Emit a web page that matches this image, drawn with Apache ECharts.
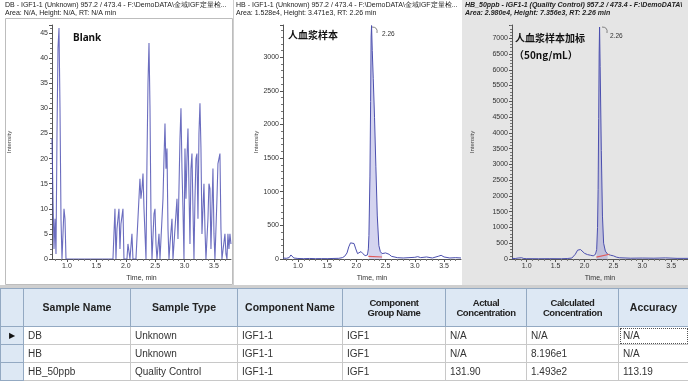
<!DOCTYPE html>
<html><head><meta charset="utf-8">
<script src="https://cdn.jsdelivr.net/npm/echarts@6/dist/echarts.min.js"></script>
<style>
body{margin:0;width:688px;height:383px;overflow:hidden;background:#fff;font-family:"Liberation Sans",Arial,sans-serif;}
#chart{position:absolute;left:0;top:0;width:688px;height:287px;}
#strip{position:absolute;left:0;top:285px;width:688px;height:4px;background:#cfcfcf;}
#tbl{position:absolute;left:0;top:288px;border-collapse:collapse;table-layout:fixed;width:688px;}
#tbl th{background:#dde8f4;border:1px solid #93a9c2;font-size:10.5px;font-weight:bold;color:#222;height:37px;padding:0 1px;line-height:11px;}
#tbl th.two{font-size:9.5px;letter-spacing:-0.4px;line-height:10px;}
#tbl td{border:1px solid #c8c8c8;font-size:10px;color:#333;height:17px;padding:0 0 0 4px;white-space:nowrap;}
#tbl td.rh{background:#dde8f4;border-color:#93a9c2;padding:0;text-align:center;font-size:8px;color:#111;}
#tbl td.focus{outline:1px dotted #555;outline-offset:-2px;}
</style></head>
<body>
<div id="chart"></div>
<div id="strip"></div>
<table id="tbl">
<colgroup><col style="width:23px"><col style="width:107px"><col style="width:107px"><col style="width:105px"><col style="width:103px"><col style="width:81px"><col style="width:92px"><col style="width:70px"></colgroup>
<thead><tr id="hdr"></tr></thead>
<tbody id="body"></tbody>
</table>
<script>
// ---------- data ----------
const tickValues = [1.0, 1.5, 2.0, 2.5, 3.0, 3.5];
const minorTickValues = [0.8,0.9,1.1,1.2,1.3,1.4,1.6,1.7,1.8,1.9,2.1,2.2,2.3,2.4,2.6,2.7,2.8,2.9,3.1,3.2,3.3,3.4,3.6,3.7];

// Panel 1: DB (Blank)
const blankTime = [0.745,0.762,0.779,0.796,0.813,0.830,0.847,0.864,0.881,0.898,0.915,0.932,0.949,0.966,0.983,1.782,1.816,1.833,1.850,1.884,1.901,1.918,1.952,1.969,2.020,2.037,2.071,2.105,2.122,2.173,2.207,2.241,2.258,2.276,2.293,2.310,2.344,2.361,2.378,2.395,2.412,2.429,2.446,2.480,2.497,2.514,2.531,2.565,2.582,2.616,2.633,2.650,2.667,2.684,2.701,2.718,2.735,2.752,2.786,2.803,2.837,2.871,2.888,2.905,2.922,2.939,2.956,2.973,2.990,3.007,3.024,3.041,3.058,3.075,3.092,3.109,3.126,3.143,3.160,3.177,3.194,3.211,3.228,3.245,3.262,3.279,3.296,3.313,3.330,3.347,3.364,3.398,3.415,3.432,3.449,3.466,3.483,3.500,3.517,3.551,3.568,3.585,3.602,3.619,3.636,3.670,3.687,3.704,3.721,3.738,3.755,3.772,3.789];
const blankInt  = [24,12,2,8,1,25,42,46,30,8,0,0,10,8,0,0,10,0,6,10,2,7,10,0,0,3,0,5,0,0,8,16,12,14,17,10,0,20,35,43,30,8,0,9,10,3,0,5,0,0,12,20,27,18,22,6,0,3,8,0,6,12,4,14,24,30,18,10,0,22,12,20,26,14,3,18,21,10,0,12,20,21,8,25,31,22,5,10,15,6,0,8,15,14,2,10,18,5,0,12,19,20,21,6,0,0,5,1,0,5,2,5,3];

// Panel 2: HB (plasma sample)
const hbTime = [0.745,0.80,0.85,0.88,0.90,0.93,1.00,1.10,1.20,1.30,1.40,1.50,1.60,1.70,1.76,1.80,1.84,1.87,1.90,1.93,1.96,1.99,2.02,2.05,2.08,2.11,2.15,2.19,2.205,2.215,2.232,2.244,2.252,2.26,2.272,2.289,2.311,2.334,2.358,2.385,2.41,2.44,2.47,2.50,2.53,2.56,2.60,2.70,2.80,2.90,3.00,3.05,3.10,3.20,3.30,3.40,3.45,3.50,3.60,3.70,3.79];
const hbInt  = [15,10,20,60,50,15,8,5,8,5,6,5,8,10,20,40,90,180,240,260,230,150,80,90,110,80,50,60,150,350,1220,2340,3300,3471,3100,2680,2100,1370,640,200,110,80,70,90,110,70,40,20,15,20,25,35,20,30,15,40,55,30,15,20,15];
const hbBaseT = [2.205, 2.44];
const hbBaseV = [40, 30];

// Panel 3: HB_50ppb (spiked plasma)
const qcTime = [0.745,0.80,0.85,0.88,0.91,0.95,1.00,1.20,1.40,1.60,1.70,1.78,1.84,1.88,1.91,1.93,1.96,2.00,2.05,2.10,2.15,2.19,2.21,2.225,2.235,2.245,2.253,2.26,2.27,2.29,2.31,2.33,2.36,2.40,2.45,2.50,2.55,2.60,2.80,3.00,3.20,3.40,3.60,3.79];
const qcInt  = [20,15,30,70,40,15,10,8,10,8,15,30,150,280,330,300,250,180,140,120,100,150,300,1000,2200,4460,6530,7356,6100,3440,1360,500,250,150,120,100,60,40,25,30,25,35,20,20];
const qcBaseT = [2.205, 2.43];
const qcBaseV = [60, 150];

// Table
const tableHeader = ['', 'Sample Name', 'Sample Type', 'Component Name', 'Component<br>Group Name', 'Actual<br>Concentration', 'Calculated<br>Concentration', 'Accuracy'];
const sampleNames = ['DB', 'HB', 'HB_50ppb'];
const sampleTypes = ['Unknown', 'Unknown', 'Quality Control'];
const componentNames = ['IGF1-1', 'IGF1-1', 'IGF1-1'];
const groupNames = ['IGF1', 'IGF1', 'IGF1'];
const actualConc = ['N/A', 'N/A', '131.90'];
const calcConc = ['N/A', '8.196e1', '1.493e2'];
const accuracy = ['N/A', 'N/A', '113.19'];

// ---------- table ----------
document.getElementById('hdr').innerHTML = tableHeader.map(h => '<th' + (h.indexOf('<br>') >= 0 ? ' class="two"' : '') + '>' + h + '</th>').join('');
let rows = '';
for (let i = 0; i < sampleNames.length; i++) {
  rows += '<tr><td class="rh">' + (i === 0 ? '&#9654;' : '') + '</td><td>' + sampleNames[i] + '</td><td>' + sampleTypes[i] + '</td><td>' + componentNames[i] + '</td><td>' + groupNames[i] + '</td><td>' + actualConc[i] + '</td><td>' + calcConc[i] + '</td><td' + (i === 0 ? ' class="focus"' : '') + '>' + accuracy[i] + '</td></tr>';
}
document.getElementById('body').innerHTML = rows;

// ---------- chart ----------
const zip = (t, v) => t.map((x, i) => [x, v[i]]);
const LINE = '#4b4fae';
const FONT = 'Liberation Sans';
const grids = [
  {left: 52, top: 25, width: 179, height: 239},
  {left: 283, top: 25, width: 178, height: 239},
  {left: 512, top: 25, width: 179, height: 239}
];
const yMax = [46.6, 3479, 7420];
const yInt = [5, 500, 500];

const xAxes = [], yAxes = [];
grids.forEach((g, i) => {
  xAxes.push({
    gridIndex: i, type: 'value', min: 0.745, max: 3.79,
    name: 'Time, min', nameLocation: 'middle', nameGap: 16,
    nameTextStyle: {fontSize: 7, color: '#333', fontFamily: FONT},
    axisLine: {lineStyle: {color: '#555', width: 1}},
    axisTick: {show: true, length: 3, customValues: tickValues, lineStyle: {color: '#555'}},
    axisLabel: {fontSize: 7, color: '#333', margin: 4, fontFamily: FONT, customValues: tickValues, formatter: v => v.toFixed(1)},
    splitLine: {show: false}
  });
  xAxes.push({
    gridIndex: i, type: 'value', min: 0.745, max: 3.79, position: 'bottom',
    axisLine: {show: false},
    axisTick: {show: true, length: 2, customValues: minorTickValues, lineStyle: {color: '#777'}},
    axisLabel: {show: false}, splitLine: {show: false}
  });
  yAxes.push({
    gridIndex: i, type: 'value', min: 0, max: yMax[i], interval: yInt[i],
    name: 'Intensity', nameLocation: 'middle', nameRotate: 90, nameGap: [40, 22, 37][i],
    nameTextStyle: {fontSize: 6, color: '#444', fontFamily: FONT},
    axisLine: {show: true, lineStyle: {color: '#555', width: 1}},
    axisTick: {show: true, length: 3, lineStyle: {color: '#555'}},
    minorTick: {show: true, splitNumber: 5, length: 2, lineStyle: {color: '#777'}},
    axisLabel: {fontSize: 7, color: '#333', margin: 4, fontFamily: FONT, showMaxLabel: false, formatter: v => String(v)},
    splitLine: {show: false}
  });
});

const lineSeries = (idx, t, v) => ({
  type: 'line', xAxisIndex: idx * 2, yAxisIndex: idx, data: zip(t, v),
  symbol: 'none', lineStyle: {color: LINE, width: 1}, z: 3, animation: false
});
const fillSeries = (idx, t, v, lo, hi) => ({
  type: 'line', xAxisIndex: idx * 2, yAxisIndex: idx,
  data: zip(t, v).filter(p => p[0] >= lo && p[0] <= hi),
  symbol: 'none', lineStyle: {width: 0}, areaStyle: {color: 'rgba(110,110,200,0.42)'}, z: 2, animation: false
});
const baseSeries = (idx, t, v) => ({
  type: 'line', xAxisIndex: idx * 2, yAxisIndex: idx, data: zip(t, v),
  symbol: 'none', lineStyle: {color: '#e05a5a', width: 1.2}, z: 4, animation: false
});
const apexMark = (t, v) => {
  let k = v.indexOf(Math.max(...v));
  return {
    symbol: 'circle', symbolSize: 1, itemStyle: {color: 'rgba(0,0,0,0)'},
    label: {show: true, formatter: '2.26', position: 'right', offset: [5, 9], fontSize: 6.5, color: '#333', fontFamily: FONT},
    data: [{coord: [t[k], v[k]]}], animation: false
  };
};

const s1 = lineSeries(0, blankTime, blankInt);
s1.lineStyle = {color: 'rgba(70,72,175,0.8)', width: 1.1};
const s2 = lineSeries(1, hbTime, hbInt); s2.markPoint = apexMark(hbTime, hbInt);
const s3 = lineSeries(2, qcTime, qcInt); s3.markPoint = apexMark(qcTime, qcInt);

const txt = (x, y, text, extra) => ({type: 'text', left: x, top: y, z: 10, style: Object.assign({text: text, fontSize: 7, fill: '#222', fontFamily: FONT}, extra || {})});

const option = {
  animation: false,
  grid: grids,
  xAxis: xAxes,
  yAxis: yAxes,
  series: [
    s1,
    fillSeries(1, hbTime, hbInt, 2.20, 2.44), s2, baseSeries(1, hbBaseT, hbBaseV),
    fillSeries(2, qcTime, qcInt, 2.20, 2.43), s3, baseSeries(2, qcBaseT, qcBaseV)
  ],
  graphic: [
    {type: 'rect', shape: {x: 462, y: 0, width: 226, height: 286}, style: {fill: '#e5e5e5'}, z: -10},
    {type: 'line', shape: {x1: 233.5, y1: 0, x2: 233.5, y2: 286}, style: {stroke: '#cfcfcf', lineWidth: 1}, z: -5},
    {type: 'rect', shape: {x: 5.5, y: 18.5, width: 227, height: 266}, style: {fill: 'none', stroke: '#bdbdbd', lineWidth: 1}, z: -5},
    {type: 'bezierCurve', shape: {x1: 372, y1: 27, x2: 377, y2: 33, cpx1: 378, cpy1: 27}, style: {stroke: '#555', lineWidth: 0.7, fill: 'none'}, z: 10},
    {type: 'bezierCurve', shape: {x1: 602, y1: 27, x2: 607, y2: 33, cpx1: 608, cpy1: 27}, style: {stroke: '#555', lineWidth: 0.7, fill: 'none'}, z: 10},
    txt(5, 2, 'DB - IGF1-1 (Unknown) 957.2 / 473.4 - F:\\DemoDATA\\金域IGF定量检...'),
    txt(5, 10, 'Area: N/A, Height: N/A, RT: N/A min'),
    txt(236, 2, 'HB - IGF1-1 (Unknown) 957.2 / 473.4 - F:\\DemoDATA\\金域IGF定量检...'),
    txt(236, 10, 'Area: 1.528e4, Height: 3.471e3, RT: 2.26 min'),
    txt(465, 2, 'HB_50ppb - IGF1-1 (Quality Control) 957.2 / 473.4 - F:\\DemoDATA\\', {fontWeight: 'bold', fontStyle: 'italic'}),
    txt(465, 10, 'Area: 2.980e4, Height: 7.356e3, RT: 2.26 min', {fontWeight: 'bold', fontStyle: 'italic'}),
    txt(73, 33, 'Blank', {fontSize: 10, fontWeight: 'bold', fill: '#111', fontFamily: 'Noto Sans'}),
    txt(288, 30, '人血浆样本', {fontSize: 10, fontWeight: 'bold', fill: '#111', fontFamily: 'Noto Sans CJK SC'}),
    txt(515, 33, '人血浆样本加标', {fontSize: 10, fontWeight: 'bold', fill: '#111', fontFamily: 'Noto Sans CJK SC'}),
    txt(514, 50, '（50ng/mL）', {fontSize: 10, fontWeight: 'bold', fill: '#111', fontFamily: 'Noto Sans CJK SC'})
  ]
};
const chart = echarts.init(document.getElementById('chart'), null, {renderer: 'canvas'});
chart.setOption(option);
</script>
</body></html>
